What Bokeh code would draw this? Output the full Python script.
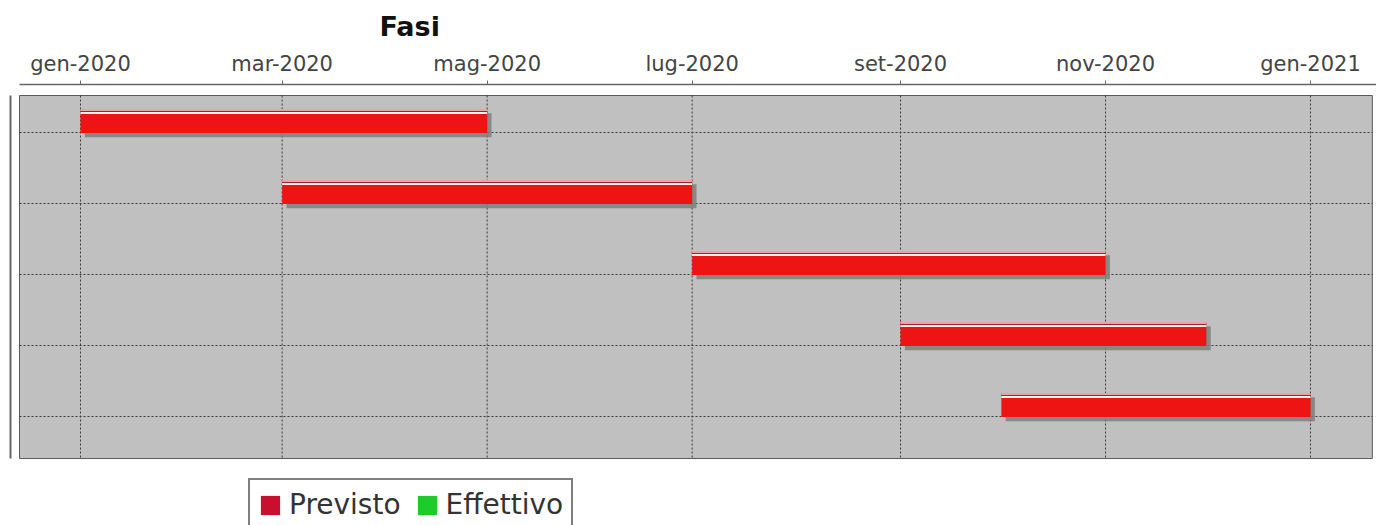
import pandas as pd
from bokeh.plotting import figure
from bokeh.models import Range1d, FixedTicker, Legend, LegendItem, Title, ColumnDataSource
from bokeh.embed import file_html
from bokeh.resources import INLINE

# ---------------- data ----------------
phases = ["Fase 1", "Fase 2", "Fase 3", "Fase 4", "Fase 5"]
planned_start = ["2020-01-01", "2020-03-01", "2020-07-01", "2020-09-01", "2020-10-01"]
planned_end = ["2020-05-01", "2020-07-01", "2020-11-01", "2020-12-01", "2021-01-01"]
actual_start = []
actual_end = []
tick_dates = ["2020-01-01", "2020-03-01", "2020-05-01", "2020-07-01",
              "2020-09-01", "2020-11-01", "2021-01-01"]
tick_labels = ["gen-2020", "mar-2020", "mag-2020", "lug-2020",
               "set-2020", "nov-2020", "gen-2021"]
series_names = ["Previsto", "Effettivo"]
series_colors = ["#c8102e", "#1ecb2a"]
chart_title = "Fasi"

# ---------------- helpers ----------------
DAY = 86400000.0


def ms(d):
    return pd.Timestamp(d).value / 1e6


x0 = ms(tick_dates[0])
x_start = x0 - 20.83 * DAY
x_end = x0 + 385.63 * DAY
area_left = x0 - 18.15 * DAY
area_right = x0 + 384.4 * DAY
y_top = -0.676
y_bottom = 5.535
area_top = -0.521
area_bottom = 4.592

idx = list(range(len(phases)))
ps = [ms(d) for d in planned_start]
pe = [ms(d) for d in planned_end]
ticks = [ms(d) for d in tick_dates]

p = figure(width=1376, height=525,
           x_range=Range1d(x_start, x_end), y_range=Range1d(y_bottom, y_top),
           x_axis_location="above", output_backend="svg", toolbar_location=None,
           min_border_left=10, min_border_right=0, min_border_top=84, min_border_bottom=0)
p.background_fill_color = "white"
p.border_fill_color = "white"
p.outline_line_color = None
p.xgrid.visible = False
p.ygrid.visible = False

# plot area
p.quad(left=[area_left], right=[area_right], top=[area_top], bottom=[area_bottom],
       fill_color="#c0c0c0", line_color="#5a5a5a", line_width=1)

# grid lines
p.segment(x0=ticks, y0=[area_top] * len(ticks), x1=ticks, y1=[area_bottom] * len(ticks),
          line_color="#3a3a3a", line_width=1, line_dash="2 2")
p.segment(x0=[area_left] * len(idx), y0=idx, x1=[area_right] * len(idx), y1=idx,
          line_color="#3a3a3a", line_width=1, line_dash="2 2")

# bars (Previsto)
src = ColumnDataSource(dict(
    left=ps, right=pe,
    sleft=[v + 1.3 * DAY for v in ps], sright=[v + 1.3 * DAY for v in pe],
    top=[i - 0.331 for i in idx], bottom=[i + 0.007 for i in idx],
    stop=[i - 0.331 + 0.06 for i in idx], sbottom=[i + 0.007 + 0.06 for i in idx],
    ptop=[i - 0.331 for i in idx], pbottom=[i - 0.303 for i in idx],
    dtop=[i - 0.303 for i in idx], dbottom=[i - 0.289 for i in idx],
    wtop=[i - 0.289 for i in idx], wbottom=[i - 0.261 for i in idx],
))
p.quad(left="sleft", right="sright", top="stop", bottom="sbottom", source=src,
       fill_color="#7a7f7c", fill_alpha=0.85, line_color=None)
p.quad(left="left", right="right", top="top", bottom="bottom", source=src,
       fill_color="#ee1414", line_color=None)
p.quad(left="left", right="right", top="ptop", bottom="pbottom", source=src,
       fill_color="#f0a0a4", line_color=None)
p.quad(left="left", right="right", top="dtop", bottom="dbottom", source=src,
       fill_color="#a82020", line_color=None)
p.quad(left="left", right="right", top="wtop", bottom="wbottom", source=src,
       fill_color="#fff2ee", line_color=None)

# legend key renderers: zero-width quads at the bar starts (nothing visible in the plot)
r_prev = p.quad(left="left", right="left", top="top", bottom="bottom", source=src,
                fill_color=series_colors[0], line_color=None)
r_eff = p.quad(left="left", right="left", top="top", bottom="bottom", source=src,
               fill_color=series_colors[1], line_color=None)
# actual (Effettivo) bars: no data
r_eff_data = p.quad(left=[ms(d) for d in actual_start], right=[ms(d) for d in actual_end],
                    top=[], bottom=[], fill_color=series_colors[1], line_color=None)

# axes
xa = p.xaxis[0]
xa.ticker = FixedTicker(ticks=ticks, minor_ticks=[])
xa.major_label_overrides = {t: lab for t, lab in zip(ticks, tick_labels)}
xa.major_label_text_font = "DejaVu Sans"
xa.major_label_text_font_size = "21px"
xa.major_label_text_color = "#444444"
xa.major_label_standoff = 5
xa.major_tick_out = 4
xa.major_tick_in = 0
xa.minor_tick_out = 0
xa.minor_tick_in = 0
xa.major_tick_line_color = "#666666"
xa.axis_line_color = "#666666"
xa.axis_line_width = 1.5
xa.bounds = (area_left, x_end)

ya = p.yaxis[0]
ya.ticker = FixedTicker(ticks=[], minor_ticks=[])
ya.major_tick_out = 0
ya.major_tick_in = 0
ya.minor_tick_out = 0
ya.minor_tick_in = 0
ya.major_label_standoff = 0
ya.axis_line_color = "#666666"
ya.axis_line_width = 2
ya.bounds = (area_top, area_bottom)

# title
p.add_layout(Title(text=chart_title, align="left", offset=369, standoff=13,
                   text_font="DejaVu Sans", text_font_style="bold", text_font_size="27px",
                   text_color="#111111"), "above")

# legend
legend = Legend(items=[LegendItem(label=series_names[0], renderers=[r_prev]),
                       LegendItem(label=series_names[1], renderers=[r_eff, r_eff_data])],
                orientation="horizontal", location=(238, -6),
                padding=8, spacing=14, glyph_width=24, glyph_height=24, label_standoff=7,
                margin=0, label_text_font="DejaVu Sans", label_text_font_size="28px",
                label_text_color="#333333", border_line_color="black", border_line_width=2,
                background_fill_color="white", background_fill_alpha=1.0)
p.add_layout(legend)

open("out.html", "w").write(file_html(p, INLINE))
